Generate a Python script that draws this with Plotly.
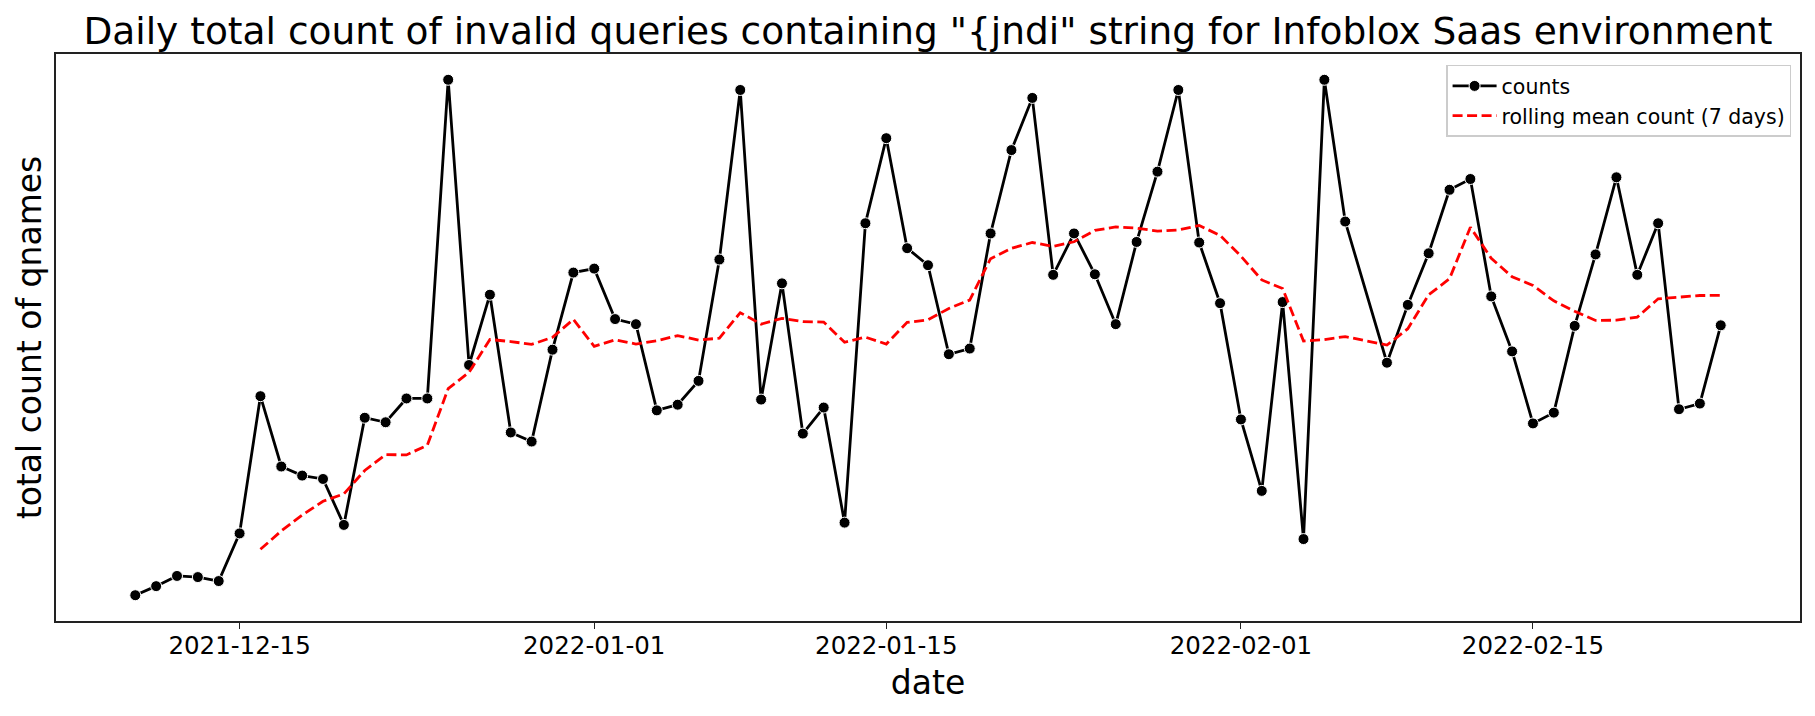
import pandas as pd
import plotly.graph_objects as go

# ---- data (y axis has no tick labels) ----
start_date = "2021-12-10"
end_date = "2022-02-24"
missing_dates = ["2022-02-07"]

counts = [
    45, 61, 79, 77, 70, 154, 396, 272, 256, 250, 169, 358, 350, 392, 392, 954,   # Dec 10 - Dec 25
    451, 575, 332, 316, 478, 614,                                                # Dec 26 - Dec 31
    621, 532, 523, 371, 381, 423, 637, 936, 390, 595, 330, 376, 173, 701, 851,  # Jan 1 - Jan 15
    657, 627, 470, 480, 683, 830, 922, 610, 683, 611, 523, 668, 792, 936, 667, 560,  # Jan 16 - Jan 31
    355, 229, 562, 144, 954, 704,                                                # Feb 1 - Feb 6
    455, 557, 648, 760, 779, 572, 475, 348, 367, 520, 646, 782, 610, 701, 373, 383, 521,  # Feb 8 - Feb 24
]
window = 7
tick_dates = ["2021-12-15", "2022-01-01", "2022-01-15", "2022-02-01", "2022-02-15"]

title_text = 'Daily total count of invalid queries containing "{jndi" string for Infoblox Saas environment'
series_names = ["counts", "rolling mean count (7 days)"]

# ---- derived ----
dates = pd.date_range(start_date, end_date).drop(pd.to_datetime(missing_dates))
s = pd.Series(counts, index=dates, dtype=float)
rolling = s.rolling(window).mean()

span_x = dates[-1] - dates[0]
x_range = [dates[0] - 0.05 * span_x, dates[-1] + 0.05 * span_x]
span_y = max(counts) - min(counts)
y_range = [min(counts) - 0.05 * span_y, max(counts) + 0.05 * span_y]

FONT = "DejaVu Sans"

fig = go.Figure()
fig.add_trace(go.Scatter(
    x=dates, y=counts, mode="lines+markers", name=series_names[0],
    line=dict(color="black", width=2.8),
    marker=dict(color="black", size=11, line=dict(color="white", width=1)),
))
fig.add_trace(go.Scatter(
    x=dates, y=rolling.values, mode="lines", name=series_names[1],
    line=dict(color="red", width=2.8, dash="10px,4.5px"),
))

W, H = 1815, 716
ml, mr, mt, mb = 56, 15, 54, 95

fig.update_layout(
    width=W, height=H,
    margin=dict(l=ml, r=mr, t=mt, b=mb, autoexpand=False),
    paper_bgcolor="white", plot_bgcolor="white",
    font=dict(family=FONT, color="black"),
    title=dict(text=title_text, font=dict(size=37.5, family=FONT, color="black"),
               x=(ml + (W - mr)) / 2 / W, xanchor="center",
               y=1 - 44 / H, yanchor="bottom", yref="container"),
    showlegend=True,
    legend=dict(
        x=0.9950, y=0.981, xanchor="right", yanchor="top",
        bgcolor="rgba(255,255,255,0.8)", bordercolor="#cccccc", borderwidth=1.3,
        font=dict(size=20.5, family=FONT, color="black"),
        itemwidth=44, tracegroupgap=0,
    ),
    xaxis=dict(
        type="date", range=x_range,
        tickvals=pd.to_datetime(tick_dates), tickformat="%Y-%m-%d",
        ticks="outside", ticklen=6, tickwidth=1.3, tickcolor="#222",
        ticklabelstandoff=-4,
        tickfont=dict(size=24.5, family=FONT, color="black"),
        showgrid=False, zeroline=False,
        showline=True, linecolor="#222", linewidth=1.5, mirror=True,
        title=dict(text="date", font=dict(size=33, family=FONT, color="black"), standoff=12),
    ),
    yaxis=dict(
        range=y_range, showticklabels=False, ticks="",
        showgrid=False, zeroline=False,
        showline=True, linecolor="#222", linewidth=1.5, mirror=True,
        title=dict(text="total count of qnames", font=dict(size=33, family=FONT, color="black"), standoff=3),
    ),
)

fig.write_html("out.html", config={"displayModeBar": False},
               post_script="document.body.style.margin='0px';")
